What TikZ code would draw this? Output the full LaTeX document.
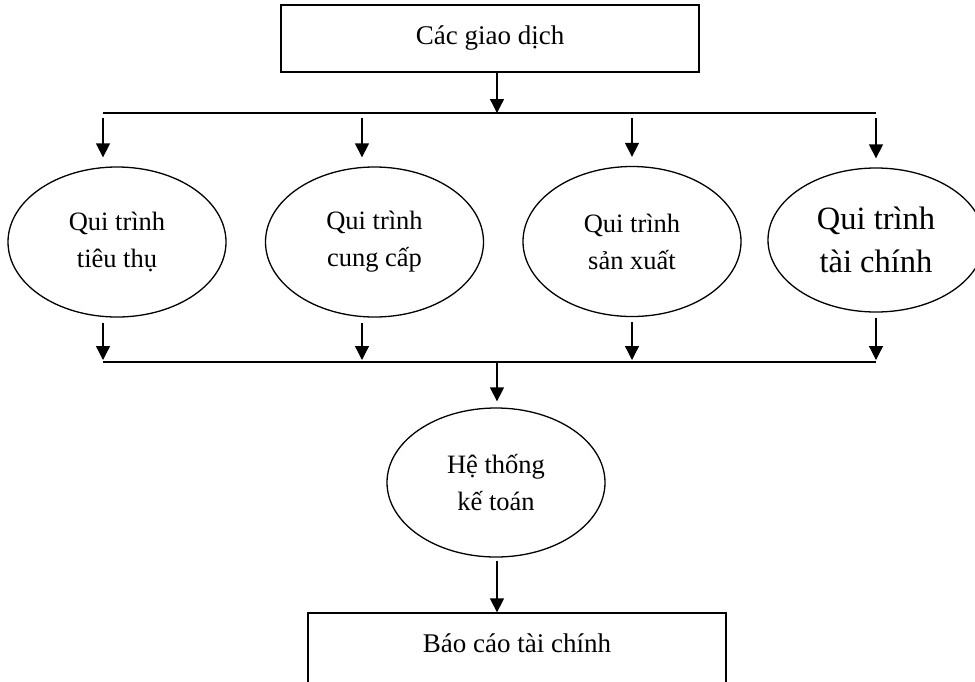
\documentclass[tikz,border=0pt]{standalone}
\usepackage{fontspec}
\setmainfont{Liberation Serif}
\usetikzlibrary{arrows.meta, shapes.geometric}

\begin{document}
\begin{tikzpicture}[x=1pt, y=-1pt, >={Triangle[width=14pt,length=14pt]},
		line width=1.3pt,
		quytrinh/.style={draw, ellipse, minimum width=218pt, minimum height=150pt, inner sep=0pt, align=center, font=\fontsize{26.5}{37}\selectfont},
		khung/.style={draw, rectangle, minimum width=418pt, inner sep=0pt, font=\fontsize{27}{33}\selectfont}]
	\useasboundingbox (0,0) rectangle (975,681);
	\clip (0,0) rectangle (975,681);

	% Nodi
	\node[khung, minimum height=67pt] (gd) at (490,38.5) {Các giao dịch};
	\node[quytrinh] (tt) at (117,242) {Qui trình\\tiêu thụ};
	\node[quytrinh] (cc) at (374.5,242) {Qui trình\\cung cấp};
	\node[quytrinh] (sx) at (632,241.5) {Qui trình\\sản xuất};
	\node[quytrinh, minimum width=216pt, minimum height=144pt, font=\fontsize{32.5}{43}\selectfont] (tc) at (876,240) {Qui trình\\tài chính};
	\node[quytrinh, minimum height=149pt] (kt) at (496,482.5) {Hệ thống\\kế toán};
	\node[khung, anchor=base, text height=35pt, text depth=60pt, inner ysep=4pt] (bc) at (517,652) {Báo cáo tài chính};

	% Linee
	\coordinate (l1) at (103,113);
	\coordinate (l2) at (362,113);
	\coordinate (l3) at (632,113);
	\coordinate (l4) at (876,113);
	\coordinate (m1) at (497,113);
	\coordinate (b1) at (103,362);
	\coordinate (b2) at (362,362);
	\coordinate (b3) at (632,362);
	\coordinate (b4) at (876,362);
	\coordinate (m2) at (497,362);
	\draw (l1) -- (l4);
	\draw (b1) -- (b4);

	% Frecce
	\draw[->] (m1 |- gd.south) -- (m1);
	\foreach \p/\q in {l1/tt, l2/cc, l3/sx, l4/tc}
		\draw[->, shorten <=5pt, shorten >=9pt] (\p) -- (\p |- \q.north);
	\foreach \p/\q in {b1/tt, b2/cc, b3/sx, b4/tc}
		\draw[->, shorten <=5pt, shorten >=2pt] (\p |- \q.south) -- (\p);
	\draw[->, shorten >=6pt] (m2) -- (m2 |- kt.north);
	\draw[->, shorten <=3pt] (m2 |- kt.south) -- (m2 |- bc.north);
\end{tikzpicture}
\end{document}
